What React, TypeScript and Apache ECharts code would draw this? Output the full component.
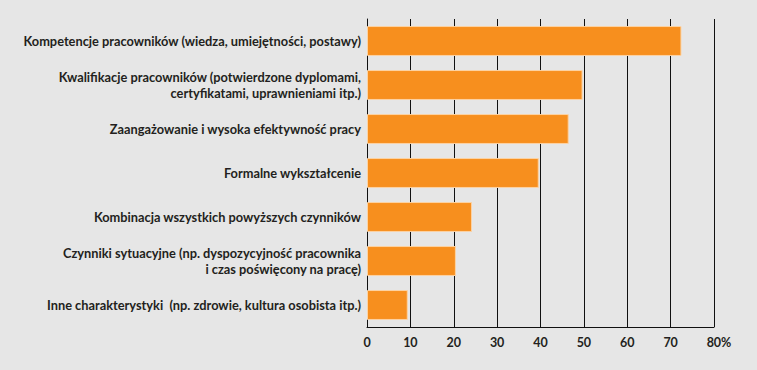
import React, { useEffect, useRef } from "react";
import * as echarts from "echarts";

const categories = [
  "Kompetencje pracowników (wiedza, umiejętności, postawy)",
  "Kwalifikacje pracowników (potwierdzone dyplomami,\ncertyfikatami, uprawnieniami itp.)",
  "Zaangażowanie i wysoka efektywność pracy",
  "Formalne wykształcenie",
  "Kombinacja wszystkich powyższych czynników",
  "Czynniki sytuacyjne (np. dyspozycyjność pracownika\ni czas poświęcony na pracę)",
  "Inne charakterystyki  (np. zdrowie, kultura osobista itp.)",
];
const values = [72.5, 49.7, 46.5, 39.6, 24.2, 20.5, 9.4];
const axisMax = 80;
const axisInterval = 10;

export default function App() {
  const ref = useRef<HTMLDivElement>(null);
  useEffect(() => {
    document.body.style.margin = "0";
    const chart = echarts.init(ref.current!, null, { renderer: "svg" });
    const font = "Lato";
    chart.setOption({
      animation: false,
      backgroundColor: "#e6e6e6",
      grid: { left: 367, right: 43, top: 19, bottom: 43 },
      xAxis: {
        type: "value",
        min: 0,
        max: axisMax,
        interval: axisInterval,
        axisLine: { show: true, lineStyle: { color: "#111", width: 1 } },
        axisTick: { show: false },
        splitLine: { show: true, lineStyle: { color: "#111", width: 1 } },
        axisLabel: {
          margin: 9,
          color: "#231f20",
          fontFamily: font,
          fontWeight: "bold",
          fontSize: 12.5,
          formatter: (v: number) => (v === axisMax ? "{sp|}" + v + "%" : String(v)),
          rich: { sp: { width: 10 } },
        },
      },
      yAxis: {
        type: "category",
        data: categories,
        inverse: true,
        axisLine: { show: true, lineStyle: { color: "#111", width: 1 } },
        axisTick: { show: false },
        axisLabel: {
          margin: 6,
          color: "#231f20",
          fontFamily: font,
          fontWeight: "bold",
          fontSize: 12.8,
          lineHeight: 16,
          align: "right",
        },
      },
      series: [
        {
          type: "bar",
          data: values,
          barCategoryGap: "32%",
          itemStyle: { color: "#f78f1e", borderColor: "#fcd3a4", borderWidth: 1 },
        },
      ],
    });
    return () => chart.dispose();
  }, []);
  return <div ref={ref} style={{ width: 757, height: 370 }} />;
}
